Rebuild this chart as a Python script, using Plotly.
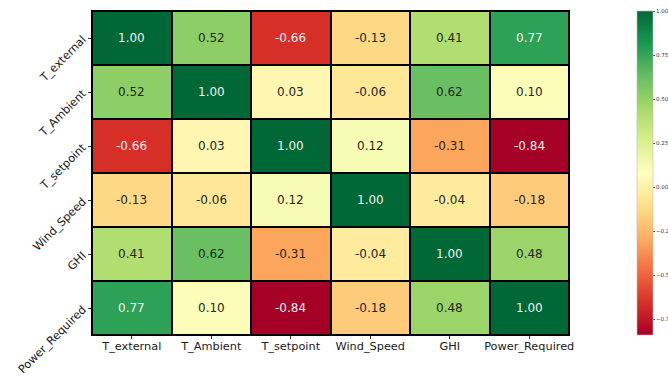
import plotly.graph_objects as go

labels = ["T_external", "T_Ambient", "T_setpoint", "Wind_Speed", "GHI", "Power_Required"]

corr = [
    [1.00, 0.52, -0.66, -0.13, 0.41, 0.77],
    [0.52, 1.00, 0.03, -0.06, 0.62, 0.10],
    [-0.66, 0.03, 1.00, 0.12, -0.31, -0.84],
    [-0.13, -0.06, 0.12, 1.00, -0.04, -0.18],
    [0.41, 0.62, -0.31, -0.04, 1.00, 0.48],
    [0.77, 0.10, -0.84, -0.18, 0.48, 1.00],
]

cbar_ticks = [1.00, 0.75, 0.50, 0.25, 0.00, -0.25, -0.50, -0.75]

zmin, zmax = -0.84, 1.00

fig = go.Figure(
    go.Heatmap(
        z=corr,
        x=labels,
        y=labels,
        colorscale="RdYlGn",
        zmin=zmin,
        zmax=zmax,
        xgap=2,
        ygap=2,
        hoverinfo="skip",
        colorbar=dict(
            x=(637 - 92) / 477,
            xanchor="left",
            xpad=0,
            y=0.5,
            yanchor="middle",
            ypad=0,
            len=1.0,
            lenmode="fraction",
            thickness=16,
            outlinewidth=0.6,
            outlinecolor="#bbbbbb",
            tickmode="array",
            tickvals=cbar_ticks,
            ticktext=[f"{v:.2f}".replace("-", "\u2212") for v in cbar_ticks],
            ticks="outside",
            ticklen=2,
            tickwidth=0.6,
            tickcolor="#555555",
            tickfont=dict(family="DejaVu Sans", size=5.5, color="#333333"),
        ),
    )
)

# Cell value annotations, light text on the darker cells
for i, row in enumerate(corr):
    for j, v in enumerate(row):
        dark = v >= 0.7 or v <= -0.6
        fig.add_annotation(
            x=labels[j],
            y=labels[i],
            text=f"{v:.2f}",
            showarrow=False,
            font=dict(family="DejaVu Sans", size=12,
                      color="#f0f0f0" if dark else "#262626"),
        )

fig.update_xaxes(
    showgrid=False,
    zeroline=False,
    ticks="outside",
    ticklen=3,
    tickcolor="#333333",
    ticklabelstandoff=-3,
    tickfont=dict(family="DejaVu Sans", size=11.3, color="#1a1a1a"),
    showline=True,
    linecolor="black",
    linewidth=1,
    mirror=True,
)
fig.update_yaxes(
    autorange="reversed",
    showgrid=False,
    zeroline=False,
    ticks="outside",
    ticklen=3,
    tickcolor="#333333",
    tickangle=-45,
    ticklabelstandoff=3,
    tickfont=dict(family="DejaVu Sans", size=11.3, color="#1a1a1a"),
    showline=True,
    linecolor="black",
    linewidth=1,
    mirror=True,
)

fig.update_layout(
    width=668,
    height=378,
    margin=dict(l=92, r=99, t=11, b=43, autoexpand=False),
    plot_bgcolor="black",
    paper_bgcolor="white",
)

fig.write_html("out.html")
